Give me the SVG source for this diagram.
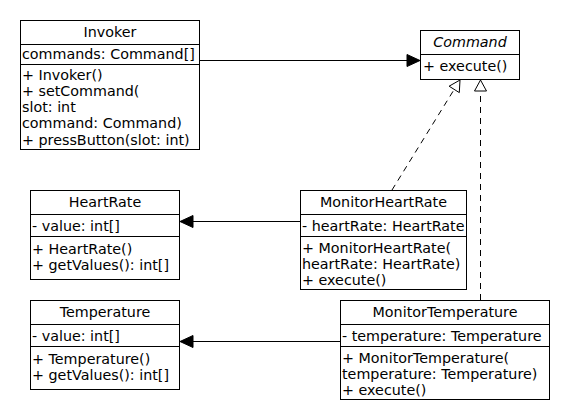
<svg xmlns="http://www.w3.org/2000/svg" width="570" height="420" viewBox="0 0 570 420">
<style>
text{font-family:"DejaVu Sans","Liberation Sans",sans-serif;font-size:14.3px;fill:#000}
.t{text-anchor:middle}
.i{font-style:italic}
.box{fill:#fff;stroke:#000;stroke-width:1}
.ln{stroke:#000;stroke-width:1;fill:none}
.dash{stroke:#000;stroke-width:1;fill:none;stroke-dasharray:6,5}
.fa{fill:#000;stroke:#000;stroke-width:1}
.ha{fill:#fff;stroke:#000;stroke-width:1}
</style>
<rect width="570" height="420" fill="#fff"/>
<g id="connectors">
<line class="ln" x1="200" y1="60.5" x2="408" y2="60.5"/>
<polygon class="fa" points="420,60.5 407,54.5 407,66.5"/>
<line class="ln" x1="300" y1="221.5" x2="192" y2="221.5"/>
<polygon class="fa" points="180,221.5 193,215.5 193,227.5"/>
<line class="ln" x1="340" y1="341.5" x2="192" y2="341.5"/>
<polygon class="fa" points="180,341.5 193,335.5 193,347.5"/>
<line class="dash" x1="392" y1="190" x2="454.2" y2="89.4"/>
<polygon class="ha" points="460,80 459.3,92.6 449.1,86.2"/>
<line class="dash" x1="480.5" y1="300" x2="480.5" y2="91"/>
<polygon class="ha" points="480.5,80 474.5,91 486.5,91"/>
</g>
<g id="Invoker">
<rect class="box" x="20.5" y="20.5" width="179" height="129"/>
<line class="ln" x1="20.5" y1="44.5" x2="199.5" y2="44.5"/>
<line class="ln" x1="20.5" y1="64.5" x2="199.5" y2="64.5"/>
<text class="t" x="110" y="37">Invoker</text>
<text x="22" y="59">commands: Command[]</text>
<text x="22" y="79.5">+ Invoker()</text>
<text x="22" y="95.8">+ setCommand(</text>
<text x="22" y="112">slot: int</text>
<text x="22" y="128.3">command: Command)</text>
<text x="22" y="144.5">+ pressButton(slot: int)</text>
</g>
<g id="Command">
<rect class="box" x="420.5" y="30.5" width="99" height="49"/>
<line class="ln" x1="420.5" y1="54.5" x2="519.5" y2="54.5"/>
<text class="t i" x="470" y="47">Command</text>
<text x="423" y="71">+ execute()</text>
</g>
<g id="HeartRate">
<rect class="box" x="30.5" y="190.5" width="149" height="89"/>
<line class="ln" x1="30.5" y1="214.5" x2="179.5" y2="214.5"/>
<line class="ln" x1="30.5" y1="236.5" x2="179.5" y2="236.5"/>
<text class="t" x="105" y="207">HeartRate</text>
<text x="32" y="231">- value: int[]</text>
<text x="32" y="254">+ HeartRate()</text>
<text x="32" y="270">+ getValues(): int[]</text>
</g>
<g id="MonitorHeartRate">
<rect class="box" x="300.5" y="190.5" width="166" height="99"/>
<line class="ln" x1="300.5" y1="214.5" x2="466.5" y2="214.5"/>
<line class="ln" x1="300.5" y1="236.5" x2="466.5" y2="236.5"/>
<text class="t" x="383.5" y="207">MonitorHeartRate</text>
<text x="302" y="230.5">- heartRate: HeartRate</text>
<text x="302" y="253">+ MonitorHeartRate(</text>
<text x="302" y="269">heartRate: HeartRate)</text>
<text x="302" y="285">+ execute()</text>
</g>
<g id="Temperature">
<rect class="box" x="30.5" y="300.5" width="149" height="89"/>
<line class="ln" x1="30.5" y1="324.5" x2="179.5" y2="324.5"/>
<line class="ln" x1="30.5" y1="346.5" x2="179.5" y2="346.5"/>
<text class="t" x="105" y="317">Temperature</text>
<text x="32" y="341">- value: int[]</text>
<text x="32" y="364">+ Temperature()</text>
<text x="32" y="380">+ getValues(): int[]</text>
</g>
<g id="MonitorTemperature">
<rect class="box" x="340.5" y="300.5" width="209" height="99"/>
<line class="ln" x1="340.5" y1="324.5" x2="549.5" y2="324.5"/>
<line class="ln" x1="340.5" y1="346.5" x2="549.5" y2="346.5"/>
<text class="t" x="445" y="317">MonitorTemperature</text>
<text x="342" y="340.5">- temperature: Temperature</text>
<text x="342" y="363">+ MonitorTemperature(</text>
<text x="342" y="379">temperature: Temperature)</text>
<text x="342" y="395">+ execute()</text>
</g>
</svg>
